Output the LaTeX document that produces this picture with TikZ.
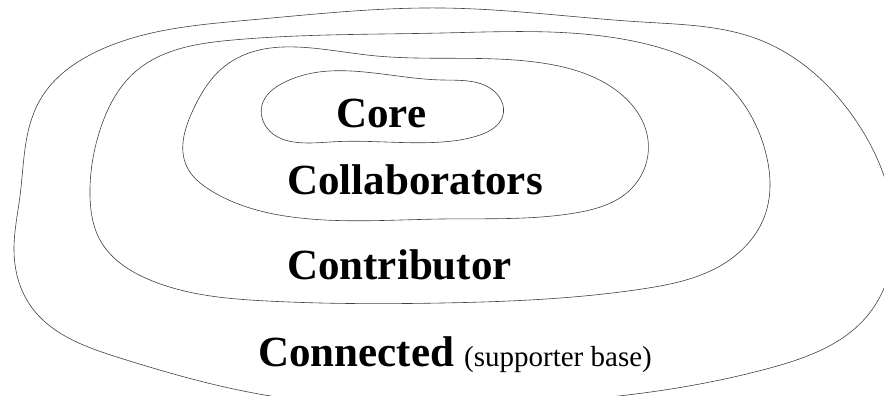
\documentclass[tikz,border=0pt]{standalone}
\usepackage{fontspec}
\setmainfont{Liberation Serif}
\usetikzlibrary{hobby}
\begin{document}
\begin{tikzpicture}[x=1pt,y=-1pt,
  ring/.style={draw=black!75,line width=0.6pt,use Hobby shortcut,closed=true},
  big/.style={font=\fontsize{43}{46}\selectfont\bfseries,inner sep=0pt},
  small/.style={font=\fontsize{29}{32}\selectfont,inner sep=0pt}]
\useasboundingbox (0,0) rectangle (884,396);
\begin{scope}
\clip (0,0) rectangle (884,396);
% outer ring: Connected
\draw[ring] (20,196) .. (40,100) .. (100,50) .. (250,20) .. (442,8) .. (642,22)
 .. (760,40) .. (852,115) .. (893,215) .. (868,315) .. (770,368) .. (600,398)
 .. (440,406) .. (277,397) .. (120,358) .. (30,305) .. (14,250);
% Contributor ring
\draw[ring] (90,196) .. (100,130) .. (135,72) .. (233,40) .. (442,33) .. (642,43)
 .. (720,78) .. (765,150) .. (765,215) .. (725,263) .. (642,289) .. (442,303)
 .. (267,301) .. (150,280) .. (100,240);
% Collaborators ring
\draw[ring] (187,167) .. (193,110) .. (225,66) .. (367,55) .. (542,63) .. (610,86)
 .. (648,140) .. (630,190) .. (575,213) .. (442,219) .. (300,218) .. (210,190);
% Core ring
\draw[ring] (262,105) .. (283,83) .. (442,80) .. (495,92) .. (503,115) .. (480,135)
 .. (442,142) .. (330,142) .. (265,125);
\end{scope}
\node[big,anchor=base west] (core) at (336,127) {Core};
\node[big,anchor=base west] (collab) at (287,194) {Collaborators};
\node[big,anchor=base west] (contrib) at (287,279) {Contributor};
\node[big,anchor=base west] (conn) at (258,366) {Connected};
\node[small,anchor=base west] (supp) at (464,366) {(supporter base)};
\end{tikzpicture}
\end{document}
